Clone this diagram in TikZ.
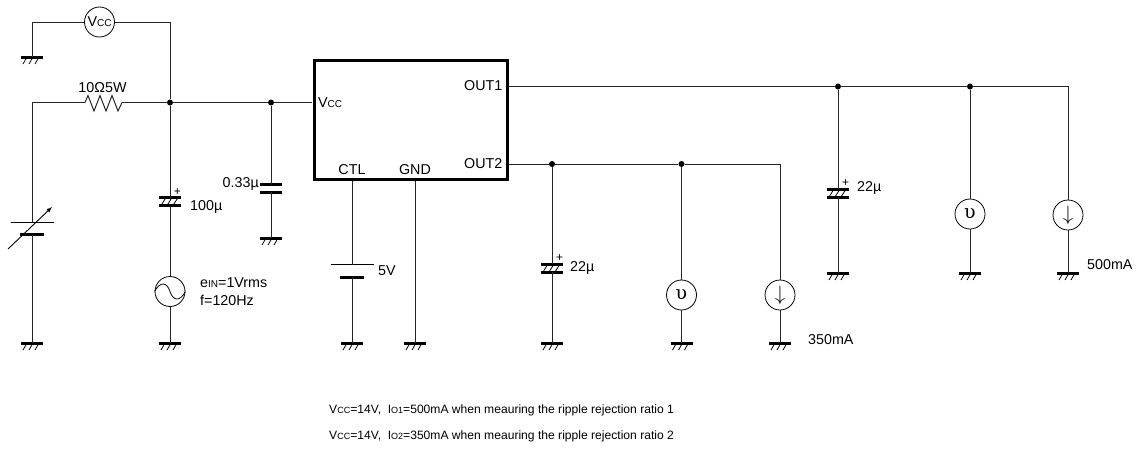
\documentclass[tikz,border=0pt]{standalone}
\usepackage{fontspec}
\setmainfont{Liberation Sans}
\newfontfamily\meterfont{DejaVu Serif}
\usetikzlibrary{arrows.meta}

\newcommand{\lowcap}[1]{{\fontsize{10}{10}\selectfont #1}}

\begin{document}
\begin{tikzpicture}[x=1pt,y=-1pt,font=\fontsize{14.3}{16}\selectfont]

	\tikzstyle{wire}=[line width=1pt,black!85]
	\tikzstyle{plate}=[line width=3pt]
	\tikzstyle{hatch}=[line width=.8pt]
	\tikzstyle{dot}=[circle,fill=black,inner sep=0pt,minimum size=6pt]
	\tikzstyle{meter}=[circle,draw,line width=.8pt,inner sep=0pt,minimum size=30pt]
	\tikzstyle{lbl}=[inner sep=0pt,anchor=west]
	\tikzstyle{myarrow}=[line width=.9pt,>=latex,->]

	\useasboundingbox (0,0) rectangle (1141,448);

	% ground symbols
	\foreach \n / \x / \y in {a/32/57,b/32/343,c/170/343,d/271/238,e/352/343,f/415/343,g/552/343,h/681.5/343,i/780/343,j/838/273,k/970/273,l/1068/273}{
		\coordinate (gnd\n) at (\x,\y);
		\draw[plate] ({\x-11},\y) -- ({\x+11},\y);
		\foreach \d in {-9,-3,3} { \draw[hatch] ({\x+\d},{\y+7}) -- ({\x+\d+4},\y);}
	}

	% capacitors, the first three values place the plates
	\foreach \n / \x / \y in {p/170/197.5,q/552/264,r/838/189}{
		\coordinate (cap\n t) at (\x,\y);
		\coordinate (cap\n b) at (\x,{\y+8});
		\draw[plate] ({\x-11},\y) -- ({\x+11},\y);
		\draw[plate] ({\x-11},{\y+8}) -- ({\x+11},{\y+8});
		\foreach \d in {-9,-3,3} { \draw[hatch] ({\x+\d},{\y+8}) -- ({\x+\d+5},\y);}
		\node[inner sep=0pt,font=\fontsize{12}{12}\selectfont] (plus\n) at ({\x+7.5},{\y-5.5}) {+};
	}
	\coordinate (capst) at (271,184.5);
	\coordinate (capsb) at (271,192);
	\draw[plate] (260,184.5) -- (282,184.5);
	\draw[plate] (260,192) -- (282,192);

	% batteries
	\foreach \n / \x / \y in {u/32/222,v/352/264.5}{
		\coordinate (bat\n t) at (\x,\y);
		\coordinate (bat\n b) at (\x,{\y+12.5});
		\draw[line width=.8pt] ({\x-21.5},\y) -- ({\x+21.5},\y);
		\draw[plate] ({\x-12},{\y+12.5}) -- ({\x+12},{\y+12.5});
	}
	\coordinate (adjs) at (8,249);
	\coordinate (adje) at (52,207);
	\draw[myarrow] (adjs) -- (adje);

	% regulator
	\node[draw,line width=3pt,minimum width=193pt,minimum height=119pt,inner sep=0pt] (ic) at (410.7,119.8) {};
	\node[lbl] (icvcc) at (318,103) {V\lowcap{CC}};
	\node[lbl,anchor=east] (icout1) at (502.5,86) {OUT1};
	\node[lbl,anchor=east] (icout2) at (502.5,164) {OUT2};
	\node[inner sep=0pt] (icctl) at (352,170) {CTL};
	\node[inner sep=0pt] (icgnd) at (415,170) {GND};

	% meters and sources
	\node[meter] (vmeter) at (99.5,22) {V\lowcap{CC}};
	\node[meter] (vsrc) at (170,291.5) {};
	\draw[line width=.8pt] (vsrc.west) .. controls (160,281) and (167,282) .. (vsrc.center) .. controls (173,301) and (180,302) .. (vsrc.east);
	\node[meter,font=\meterfont\fontsize{19}{19}\selectfont] (vouta) at (681.5,295) {υ};
	\node[meter,font=\fontsize{20}{20}\selectfont] (iouta) at (780,295) {$\downarrow$};
	\node[meter,font=\meterfont\fontsize{19}{19}\selectfont] (voutb) at (970,214) {υ};
	\node[meter,font=\fontsize{20}{20}\selectfont] (ioutb) at (1068,215) {$\downarrow$};

	% junctions
	\node[dot] (ja) at (170,102.5) {};
	\node[dot] (jb) at (271,102.5) {};
	\node[dot] (jc) at (552,164) {};
	\node[dot] (jd) at (681.5,164) {};
	\node[dot] (je) at (838,86.5) {};
	\node[dot] (jf) at (970,86.5) {};
	\coordinate (cornera) at (32,22);
	\coordinate (cornerb) at (170,22);
	\coordinate (cornerc) at (32,102.5);
	\coordinate (cornerd) at (780,164);
	\coordinate (cornere) at (1068,86.5);
	\coordinate (resl) at (85,102.5);
	\coordinate (resr) at (122,102.5);
	\coordinate (pinv) at (312,102.5);
	\coordinate (pino) at (509,86.5);
	\coordinate (pinp) at (509,164);
	\coordinate (pinc) at (352,181);
	\coordinate (ping) at (415,181);

	\draw[wire] (vmeter) -- (cornera) -- (gnda);
	\draw[wire] (vmeter) -- (cornerb) -- (ja);
	\draw[wire] (gndb) -- (batub);
	\draw[wire] (batut) -- (cornerc) -- (resl);
	\draw[wire] (resl) -- (88,95.5) -- (94,111) -- (100,95.5) -- (106,111) -- (112,95.5) -- (118,111) -- (resr);
	\draw[wire] (resr) -- (ja) -- (jb) -- (pinv);
	\draw[wire] (ja) -- (cappt);
	\draw[wire] (cappb) -- (vsrc);
	\draw[wire] (vsrc) -- (gndc);
	\draw[wire] (jb) -- (capst);
	\draw[wire] (capsb) -- (gndd);
	\draw[wire] (pinc) -- (batvt);
	\draw[wire] (batvb) -- (gnde);
	\draw[wire] (ping) -- (gndf);
	\draw[wire] (pinp) -- (jc) -- (jd) -- (cornerd) -- (iouta);
	\draw[wire] (iouta) -- (gndi);
	\draw[wire] (jc) -- (capqt);
	\draw[wire] (capqb) -- (gndg);
	\draw[wire] (jd) -- (vouta);
	\draw[wire] (vouta) -- (gndh);
	\draw[wire] (pino) -- (je) -- (jf) -- (cornere) -- (ioutb);
	\draw[wire] (ioutb) -- (gndl);
	\draw[wire] (je) -- (caprt);
	\draw[wire] (caprb) -- (gndj);
	\draw[wire] (jf) -- (voutb);
	\draw[wire] (voutb) -- (gndk);

	% values
	\node[inner sep=0pt] (resval) at (102.5,87.5) {10Ω5W};
	\node[lbl] (capval) at (190,206.5) {100µ};
	\node[lbl,anchor=east] (bypval) at (259,184) {0.33µ};
	\node[lbl] (ein) at (200,283) {e\lowcap{IN}=1Vrms};
	\node[lbl] (freq) at (200,300) {f=120Hz};
	\node[lbl] (ctlval) at (378,271) {5V};
	\node[lbl] (capqval) at (570,268) {22µ};
	\node[lbl] (caprval) at (857,188) {22µ};
	\node[lbl] (ioval) at (808,340) {350mA};
	\node[lbl] (ipval) at (1087,265) {500mA};

	\tikzstyle{note}=[lbl,font=\fontsize{12.1}{14}\selectfont]
	\node[note] (notea) at (329,410) {V{\fontsize{9}{9}\selectfont CC}=14V,\ \ I{\fontsize{9}{9}\selectfont O1}=500mA when meauring the ripple rejection ratio 1};
	\node[note] (noteb) at (329,436.5) {V{\fontsize{9}{9}\selectfont CC}=14V,\ \ I{\fontsize{9}{9}\selectfont O2}=350mA when meauring the ripple rejection ratio 2};
\end{tikzpicture}
\end{document}
